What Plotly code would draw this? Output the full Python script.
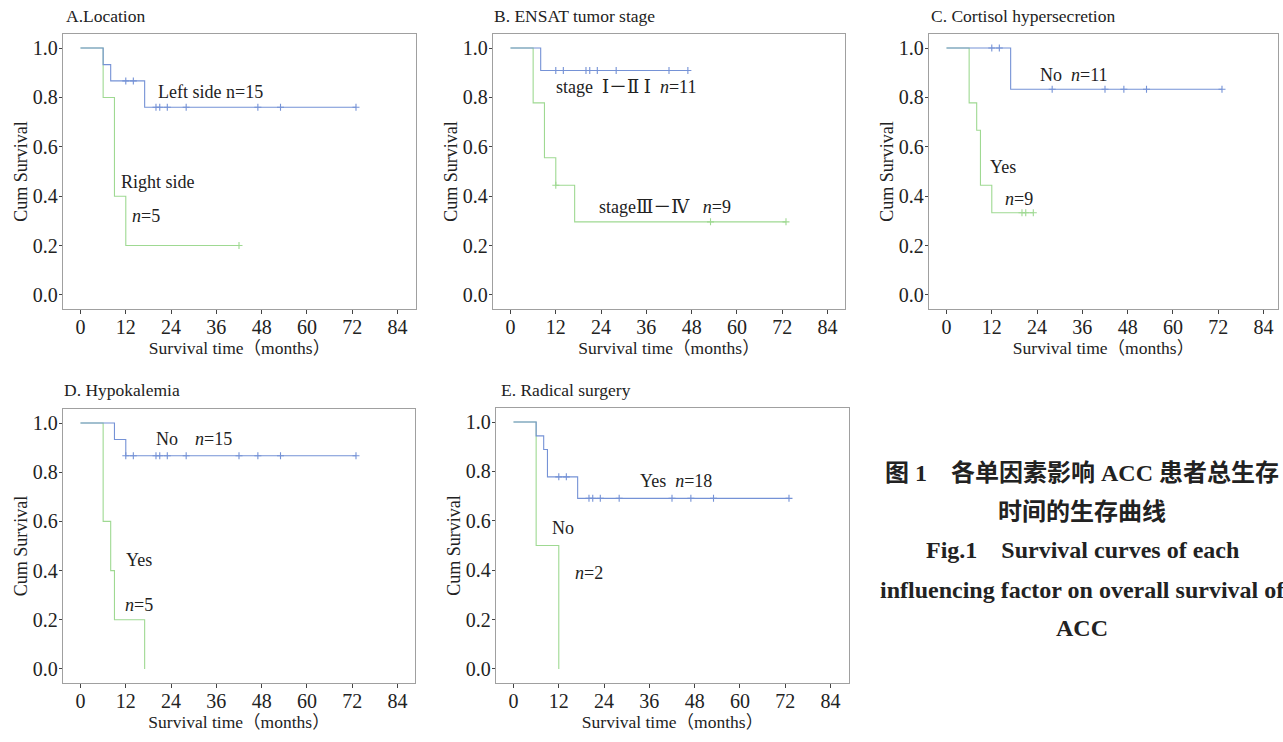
import plotly.graph_objects as go

# ---------------- data (months, cumulative survival) ----------------
# Panel A: Location
a_left_t = [0, 6, 8, 17, 73]
a_left_s = [1.0, 0.933, 0.867, 0.760, 0.760]
a_left_c = [12, 14, 20, 21, 23, 28, 47, 53, 73]
a_right_t = [0, 6, 9, 12, 42]
a_right_s = [1.0, 0.8, 0.4, 0.2, 0.2]
a_right_c = [42]

# Panel B: ENSAT tumor stage
b_early_t = [0, 8, 47]
b_early_s = [1.0, 0.909, 0.909]
b_early_c = [12, 14, 20, 21, 23, 28, 42, 47]
b_late_t = [0, 6, 9, 12, 17, 73]
b_late_s = [1.0, 0.778, 0.556, 0.444, 0.296, 0.296]
b_late_c = [12, 53, 73]

# Panel C: Cortisol hypersecretion
c_no_t = [0, 17, 73]
c_no_s = [1.0, 0.833, 0.833]
c_no_c = [12, 14, 28, 42, 47, 53, 73]
c_yes_t = [0, 6, 8, 9, 12, 23]
c_yes_s = [1.0, 0.778, 0.667, 0.444, 0.333, 0.333]
c_yes_c = [20, 21, 23]

# Panel D: Hypokalemia
d_no_t = [0, 9, 12, 73]
d_no_s = [1.0, 0.933, 0.867, 0.867]
d_no_c = [12, 14, 20, 21, 23, 28, 42, 47, 53, 73]
d_yes_t = [0, 6, 8, 9, 17]
d_yes_s = [1.0, 0.6, 0.4, 0.2, 0.0]
d_yes_c = []

# Panel E: Radical surgery
e_yes_t = [0, 6, 8, 9, 17, 73]
e_yes_s = [1.0, 0.944, 0.889, 0.778, 0.691, 0.691]
e_yes_c = [12, 14, 20, 21, 23, 28, 42, 47, 53, 73]
e_no_t = [0, 6, 12]
e_no_s = [1.0, 0.5, 0.0]
e_no_c = []

x_ticks = [0, 12, 24, 36, 48, 60, 72, 84]
y_ticks = [0.0, 0.2, 0.4, 0.6, 0.8, 1.0]
y_tick_text = ["0.0", "0.2", "0.4", "0.6", "0.8", "1.0"]

BLUE = "#7592d6"
GREEN = "#9fd992"
FONT = "Liberation Serif"
NOTE_FONT = "Liberation Serif, DejaVu Serif, Noto Sans CJK SC"
W, H = 1283, 742


def step_value(ts, ss, t):
    v = ss[0]
    for ti, si in zip(ts, ss):
        if ti <= t:
            v = si
    return v


# panel boxes in pixels: (left, right, top, bottom)
panels = [
    dict(box=(63, 416, 34, 309), title="A.Location", tx=64, ty=16,
         series=[(a_right_t, a_right_s, a_right_c, GREEN), (a_left_t, a_left_s, a_left_c, BLUE)],
         notes=[(20, 0.824, "Left side n=15"), (10.1, 0.459, "Right side"), (13.2, 0.318, "<i>n</i>=5")]),
    dict(box=(493, 845, 34, 309), title="B. ENSAT tumor stage", tx=492, ty=16,
         series=[(b_late_t, b_late_s, b_late_c, GREEN), (b_early_t, b_early_s, b_early_c, BLUE)],
         notes=[(11.6, 0.842, "stage  Ⅰ－Ⅱ Ⅰ  <i>n</i>=11"), (23, 0.358, "stageⅢ－Ⅳ   <i>n</i>=9")]),
    dict(box=(929, 1278, 34, 309), title="C. Cortisol hypersecretion", tx=929, ty=16,
         series=[(c_yes_t, c_yes_s, c_yes_c, GREEN), (c_no_t, c_no_s, c_no_c, BLUE)],
         notes=[(24.3, 0.892, "No  <i>n</i>=11"), (11.0, 0.52, "Yes"), (15.0, 0.388, "<i>n</i>=9")]),
    dict(box=(63, 415, 409, 683), title="D. Hypokalemia", tx=62, ty=390,
         series=[(d_yes_t, d_yes_s, d_yes_c, GREEN), (d_no_t, d_no_s, d_no_c, BLUE)],
         notes=[(19.4, 0.936, "No"), (29.8, 0.936, "<i>n</i>=15"), (11.4, 0.443, "Yes"), (11.2, 0.259, "<i>n</i>=5")]),
    dict(box=(496, 849, 408, 683), title="E. Radical surgery", tx=499, ty=390,
         series=[(e_no_t, e_no_s, e_no_c, GREEN), (e_yes_t, e_yes_s, e_yes_c, BLUE)],
         notes=[(33.0, 0.762, "Yes  <i>n</i>=18"), (9.7, 0.570, "No"), (15.7, 0.387, "<i>n</i>=2")]),
]

fig = go.Figure()
annotations = []
layout_axes = {}

for i, p in enumerate(panels, start=1):
    l, r, t, b = p["box"]
    xs = "" if i == 1 else str(i)
    xref, yref = "x" + xs, "y" + xs
    px_per_month = 317 / 84
    x0 = -17.5 / px_per_month
    x1 = x0 + (r - l) / px_per_month
    layout_axes["xaxis" + xs] = dict(
        domain=[l / W, r / W], range=[x0, x1], anchor=yref,
        tickvals=x_ticks, ticks="outside", ticklen=4, tickcolor="#444",
        ticklabelstandoff=-4,
        showline=True, mirror=True, linecolor="#a0a0a0", linewidth=1.3,
        showgrid=False, zeroline=False,
        tickfont=dict(family=FONT, size=20, color="#222"),
        title=dict(text="Survival time（months）", standoff=0,
                   font=dict(family=FONT + ", Noto Sans CJK SC", size=17.5, color="#222")),
    )
    layout_axes["yaxis" + xs] = dict(
        domain=[1 - b / H, 1 - t / H], range=[-0.057, 1.057], anchor=xref,
        tickvals=y_ticks, ticktext=y_tick_text, ticks="outside", ticklen=3, tickcolor="#444",
        ticklabelstandoff=-3,
        showline=True, mirror=True, linecolor="#a0a0a0", linewidth=1.3,
        showgrid=False, zeroline=False,
        tickfont=dict(family=FONT, size=20, color="#222"),
        title=dict(text="Cum Survival", standoff=0,
                   font=dict(family=FONT, size=18, color="#222")),
    )
    for ts, ss, cs, col in p["series"]:
        fig.add_trace(go.Scatter(x=ts, y=ss, mode="lines", line=dict(color=col, width=1.1, shape="hv"),
                                 xaxis=xref, yaxis=yref, showlegend=False, hoverinfo="skip"))
        if cs:
            fig.add_trace(go.Scatter(x=cs, y=[step_value(ts, ss, c) for c in cs], mode="markers",
                                     marker=dict(symbol="cross-thin", size=5, line=dict(color=col, width=1.1)),
                                     xaxis=xref, yaxis=yref, showlegend=False, hoverinfo="skip"))
    annotations.append(dict(text=p["title"], x=p["tx"] / W, y=1 - p["ty"] / H, xref="paper", yref="paper",
                            xanchor="left", yanchor="middle", showarrow=False,
                            font=dict(family=FONT, size=17.5, color="#222")))
    for nx, ny, txt in p["notes"]:
        annotations.append(dict(text=txt, x=nx, y=ny, xref=xref, yref=yref, xanchor="left",
                                yanchor="middle", showarrow=False,
                                font=dict(family=NOTE_FONT, size=18, color="#222")))

# caption
cap_font = dict(family="Liberation Serif, Noto Sans CJK SC", size=24, color="#222")
caption = [
    (473, "<b>图 1　各单因素影响 ACC 患者总生存</b>"),
    (512, "<b>时间的生存曲线</b>"),
    (550, "<b>Fig.1　Survival curves of each</b>"),
    (590, "<b>influencing factor on overall survival of</b>"),
    (628, "<b>ACC</b>"),
]
for cy, txt in caption:
    annotations.append(dict(text=txt, x=1082 / W, y=1 - cy / H, xref="paper", yref="paper",
                            xanchor="center", yanchor="middle", showarrow=False, font=cap_font))

fig.update_layout(
    width=W, height=H, margin=dict(l=0, r=0, t=0, b=0),
    paper_bgcolor="white", plot_bgcolor="white",
    annotations=annotations, **layout_axes,
)

fig.write_html("out.html", config={"displayModeBar": False},
               post_script="document.body.style.margin='0px';document.body.style.overflow='hidden';")
